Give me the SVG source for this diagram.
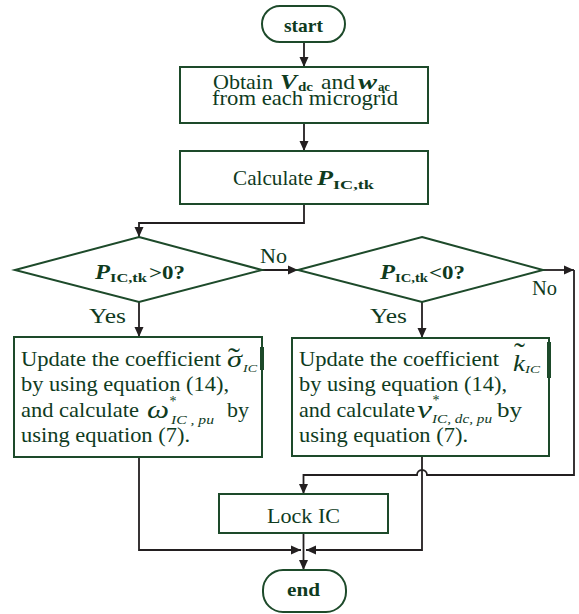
<svg xmlns="http://www.w3.org/2000/svg" width="579" height="614" viewBox="0 0 579 614">
<style>
.box{fill:#ffffff;stroke:#1d4a2a;stroke-width:2}
.t{font-family:"Liberation Serif","Times New Roman","DejaVu Serif",serif;fill:#0f3b1e}
.b{font-weight:bold}
.i{font-style:italic}
.c{fill:none;stroke:#231f20;stroke-width:1.8}
.k{fill:#1d4a2a}
</style>
<defs>
<marker id="ah" markerWidth="10" markerHeight="10" refX="10" refY="5" orient="auto" markerUnits="userSpaceOnUse">
<path d="M0,0.5 L10,5 L0,9.5 z" fill="#231f20"/>
</marker>
</defs>
<rect width="579" height="614" fill="#ffffff"/>

<g id="connectors">
<line class="c" x1="304" y1="42" x2="304" y2="67" marker-end="url(#ah)"/>
<line class="c" x1="304" y1="123" x2="304" y2="151" marker-end="url(#ah)"/>
<path class="c" d="M304,204 V223 H139 V237" marker-end="url(#ah)"/>
<line class="c" x1="262" y1="270" x2="298" y2="270" marker-end="url(#ah)"/>
<line class="c" x1="543" y1="270" x2="574" y2="270" marker-end="url(#ah)"/>
<path class="c" d="M574,270 V475 H427 A5,5 0 0 0 417,475 H303.5 V494" marker-end="url(#ah)"/>
<line class="c" x1="139" y1="302" x2="139" y2="337" marker-end="url(#ah)"/>
<line class="c" x1="422" y1="302" x2="422" y2="338" marker-end="url(#ah)"/>
<path class="c" d="M139,457 V550 H301" marker-end="url(#ah)"/>
<path class="c" d="M422,456 V550 H306" marker-end="url(#ah)"/>
<line class="c" x1="303.5" y1="533" x2="303.5" y2="570" marker-end="url(#ah)"/>
</g>

<g font-size="21">
<g id="start">
<rect class="box" x="262" y="6" width="83" height="36" rx="18"/>
<text class="t b" x="284" y="32" font-size="19" textLength="39" lengthAdjust="spacingAndGlyphs">start</text>
</g>

<g id="obtain">
<rect class="box" x="180" y="67" width="248" height="56"/>
<text class="t" x="213" y="89" textLength="60" lengthAdjust="spacingAndGlyphs">Obtain</text>
<text class="t b i" x="280" y="89" font-size="21" textLength="17" lengthAdjust="spacingAndGlyphs">V</text>
<text class="t b" x="298" y="91" font-size="13" textLength="15" lengthAdjust="spacingAndGlyphs">dc</text>
<text class="t" x="321" y="89" textLength="34" lengthAdjust="spacingAndGlyphs">and</text>
<text class="t b i" x="358" y="89" font-size="21" textLength="19" lengthAdjust="spacingAndGlyphs">w</text>
<text class="t b" x="378" y="91" font-size="13" textLength="12" lengthAdjust="spacingAndGlyphs">ac</text>
<text class="t" x="212" y="105" textLength="186" lengthAdjust="spacingAndGlyphs">from each microgrid</text>
</g>

<g id="calc">
<rect class="box" x="180" y="151" width="248" height="53"/>
<text class="t" x="233" y="185" textLength="80" lengthAdjust="spacingAndGlyphs">Calculate</text>
<text class="t b i" x="317" y="185" font-size="21" textLength="16" lengthAdjust="spacingAndGlyphs">P</text>
<text class="t b" x="333" y="189" font-size="13" textLength="41" lengthAdjust="spacingAndGlyphs">IC,tk</text>
</g>

<g id="dec1">
<polygon class="box" points="139,237 262,270 139,302 15,270"/>
<text class="t b i" x="95" y="279" font-size="20" textLength="15" lengthAdjust="spacingAndGlyphs">P</text>
<text class="t b" x="110" y="282" font-size="13" textLength="37" lengthAdjust="spacingAndGlyphs">IC,tk</text>
<text class="t b" x="149" y="279" font-size="19" textLength="36" lengthAdjust="spacingAndGlyphs">&gt;0?</text>
<text class="t" x="260" y="263" textLength="27" lengthAdjust="spacingAndGlyphs">No</text>
<text class="t" x="89" y="323" textLength="37" lengthAdjust="spacingAndGlyphs">Yes</text>
</g>

<g id="dec2">
<polygon class="box" points="422,237 543,270 422,302 298,270"/>
<text class="t b i" x="380" y="279" font-size="20" textLength="15" lengthAdjust="spacingAndGlyphs">P</text>
<text class="t b" x="395" y="282" font-size="13" textLength="33" lengthAdjust="spacingAndGlyphs">IC,tk</text>
<text class="t b" x="429" y="279" font-size="19" textLength="36" lengthAdjust="spacingAndGlyphs">&lt;0?</text>
<text class="t" x="532" y="295" textLength="25" lengthAdjust="spacingAndGlyphs">No</text>
<text class="t" x="370" y="323" textLength="37" lengthAdjust="spacingAndGlyphs">Yes</text>
</g>

<g id="update-left">
<rect class="box" x="14" y="337" width="248" height="120"/>
<rect class="k" x="260" y="347" width="4" height="23"/>
<text class="t" x="21" y="366" textLength="200" lengthAdjust="spacingAndGlyphs">Update the coefficient</text>
<text class="t i" x="227" y="367" font-size="24" textLength="15" lengthAdjust="spacingAndGlyphs">σ</text>
<text class="t" x="228" y="368" font-size="30" textLength="12" lengthAdjust="spacingAndGlyphs">˜</text>
<text class="t i" x="243" y="372" font-size="10" textLength="14" lengthAdjust="spacingAndGlyphs">IC</text>
<text class="t" x="21" y="391" textLength="208" lengthAdjust="spacingAndGlyphs">by using equation (14),</text>
<text class="t" x="21" y="417" textLength="118" lengthAdjust="spacingAndGlyphs">and calculate</text>
<text class="t i" x="147" y="418" font-size="26" textLength="22" lengthAdjust="spacingAndGlyphs">ω</text>
<text class="t" x="169.5" y="406" font-size="14">*</text>
<text class="t i" x="171" y="424" font-size="13" textLength="43" lengthAdjust="spacingAndGlyphs">IC , pu</text>
<text class="t" x="227" y="417" textLength="22" lengthAdjust="spacingAndGlyphs">by</text>
<text class="t" x="21" y="442" textLength="169" lengthAdjust="spacingAndGlyphs">using equation (7).</text>
</g>

<g id="update-right">
<rect class="box" x="292" y="338" width="257" height="118"/>
<rect class="k" x="547" y="342" width="4" height="36"/>
<text class="t" x="299" y="366" textLength="200" lengthAdjust="spacingAndGlyphs">Update the coefficient</text>
<text class="t i" x="513" y="371" font-size="23" textLength="12" lengthAdjust="spacingAndGlyphs">k</text>
<text class="t" x="514" y="363" font-size="30" textLength="11" lengthAdjust="spacingAndGlyphs">˜</text>
<text class="t i" x="525" y="373" font-size="10" textLength="15" lengthAdjust="spacingAndGlyphs">IC</text>
<text class="t" x="299" y="391" textLength="208" lengthAdjust="spacingAndGlyphs">by using equation (14),</text>
<text class="t" x="299" y="417" textLength="116" lengthAdjust="spacingAndGlyphs">and calculate</text>
<text class="t i" x="417" y="418" font-size="26" textLength="15" lengthAdjust="spacingAndGlyphs">v</text>
<text class="t" x="432.5" y="405" font-size="14">*</text>
<text class="t i" x="432" y="423" font-size="13" textLength="60" lengthAdjust="spacingAndGlyphs">IC, dc, pu</text>
<text class="t" x="497" y="417" textLength="25" lengthAdjust="spacingAndGlyphs">by</text>
<text class="t" x="299" y="442" textLength="169" lengthAdjust="spacingAndGlyphs">using equation (7).</text>
</g>

<g id="lock">
<rect class="box" x="219" y="494" width="169" height="39"/>
<text class="t" x="267" y="523" textLength="73" lengthAdjust="spacingAndGlyphs">Lock IC</text>
</g>

<g id="end">
<rect class="box" x="263" y="570" width="83" height="42" rx="20"/>
<text class="t b" x="287" y="596" font-size="19" textLength="33" lengthAdjust="spacingAndGlyphs">end</text>
</g>
</g>
</svg>
